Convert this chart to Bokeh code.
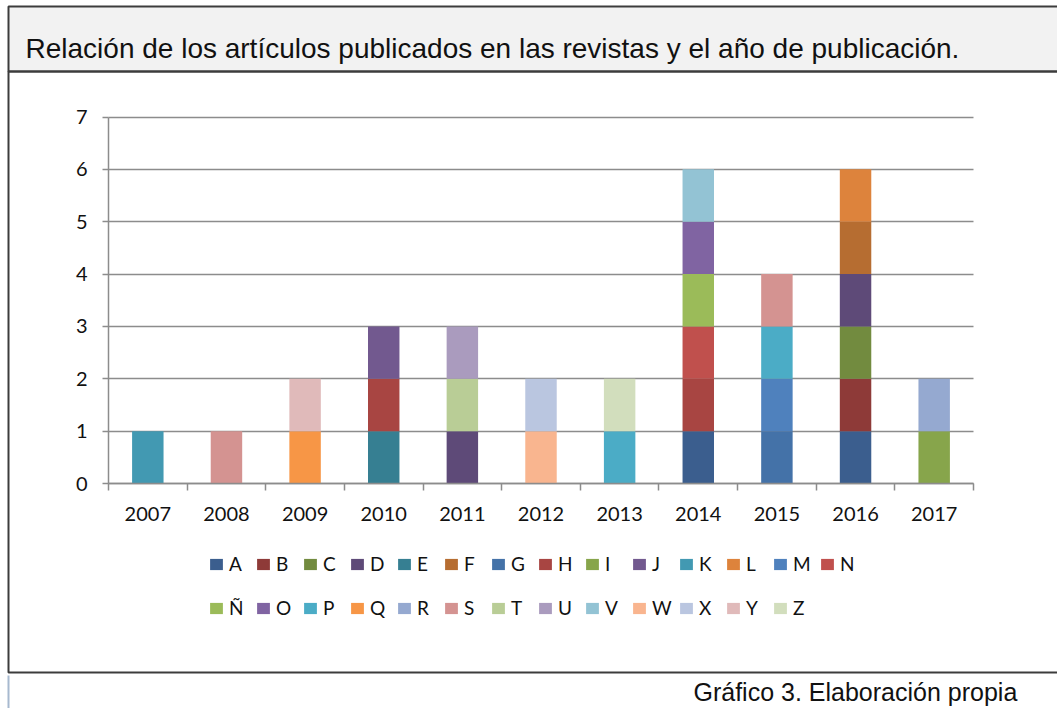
from bokeh.plotting import figure
from bokeh.models import (ColumnDataSource, Range1d, FixedTicker, Legend, LegendItem,
                          BoxAnnotation, Label, SingleIntervalTicker)
from bokeh.embed import file_html
from bokeh.resources import INLINE

years = ["2007", "2008", "2009", "2010", "2011", "2012", "2013", "2014", "2015", "2016", "2017"]
series = ["A", "B", "C", "D", "E", "F", "G", "H", "I", "J", "K", "L", "M", "N",
          "Ñ", "O", "P", "Q", "R", "S", "T", "U", "V", "W", "X", "Y", "Z"]

# articles per year (2007..2017) for each journal
A = [0, 0, 0, 0, 0, 0, 0, 1, 0, 1, 0]
B = [0, 0, 0, 0, 0, 0, 0, 0, 0, 1, 0]
C = [0, 0, 0, 0, 0, 0, 0, 0, 0, 1, 0]
D = [0, 0, 0, 0, 1, 0, 0, 0, 0, 1, 0]
E = [0, 0, 0, 1, 0, 0, 0, 0, 0, 0, 0]
F = [0, 0, 0, 0, 0, 0, 0, 0, 0, 1, 0]
G = [0, 0, 0, 0, 0, 0, 0, 0, 1, 0, 0]
H = [0, 0, 0, 1, 0, 0, 0, 1, 0, 0, 0]
I = [0, 0, 0, 0, 0, 0, 0, 0, 0, 0, 1]
J = [0, 0, 0, 1, 0, 0, 0, 0, 0, 0, 0]
K = [1, 0, 0, 0, 0, 0, 0, 0, 0, 0, 0]
L = [0, 0, 0, 0, 0, 0, 0, 0, 0, 1, 0]
M = [0, 0, 0, 0, 0, 0, 0, 0, 1, 0, 0]
N = [0, 0, 0, 0, 0, 0, 0, 1, 0, 0, 0]
N_TILDE = [0, 0, 0, 0, 0, 0, 0, 1, 0, 0, 0]
O = [0, 0, 0, 0, 0, 0, 0, 1, 0, 0, 0]
P = [0, 0, 0, 0, 0, 0, 1, 0, 1, 0, 0]
Q = [0, 0, 1, 0, 0, 0, 0, 0, 0, 0, 0]
R = [0, 0, 0, 0, 0, 0, 0, 0, 0, 0, 1]
S = [0, 1, 0, 0, 0, 0, 0, 0, 1, 0, 0]
T = [0, 0, 0, 0, 1, 0, 0, 0, 0, 0, 0]
U = [0, 0, 0, 0, 1, 0, 0, 0, 0, 0, 0]
V = [0, 0, 0, 0, 0, 0, 0, 1, 0, 0, 0]
W = [0, 0, 0, 0, 0, 1, 0, 0, 0, 0, 0]
X = [0, 0, 0, 0, 0, 1, 0, 0, 0, 0, 0]
Y = [0, 0, 1, 0, 0, 0, 0, 0, 0, 0, 0]
Z = [0, 0, 0, 0, 0, 0, 1, 0, 0, 0, 0]

values = [A, B, C, D, E, F, G, H, I, J, K, L, M, N, N_TILDE, O, P, Q, R, S, T, U, V, W, X, Y, Z]

colors = ["#3B5E8E", "#8E3A38", "#728B3F", "#5E4A78", "#367F92", "#B66D31", "#4472A8",
          "#A84542", "#87A54B", "#72598F", "#4299B2", "#DD833C", "#4F81BD", "#C0504D",
          "#9BBB59", "#8064A2", "#4BACC6", "#F79646", "#95A9D0", "#D49391", "#B9CD96",
          "#AA9BBE", "#93C3D4", "#F9B58F", "#BAC6E0", "#E0BABA", "#D2DEBD"]

y_max = 7
title_text = "Relación de los artículos publicados en las revistas y el año de publicación."
caption_text = "Gráfico 3. Elaboración  propia"

# ---- layout constants (pixels on the canvas) ----
W_PX, H_PX = 1057, 708
PLOT_LEFT, PLOT_RIGHT = 108.0, 973.0    # pixel of x=0 and x=n_years
PLOT_BOTTOM, PLOT_TOP = 483.0, 116.5    # pixel of y=0 and y=y_max

n = len(years)
ux = (PLOT_RIGHT - PLOT_LEFT) / n
uy = (PLOT_BOTTOM - PLOT_TOP) / y_max
x_range = Range1d(-PLOT_LEFT / ux, (W_PX - PLOT_LEFT) / ux)
y_range = Range1d(-(H_PX - PLOT_BOTTOM) / uy, PLOT_BOTTOM / uy)

centers = [i + 0.5 for i in range(n)]
bounds = [float(i) for i in range(n + 1)]

data = {"x": centers}
for name, vals in zip(series, values):
    data[name] = vals
source = ColumnDataSource(data)

p = figure(width=W_PX, height=H_PX, output_backend="svg", toolbar_location=None,
           x_range=x_range, y_range=y_range, title=None,
           min_border_left=0, min_border_right=0, min_border_top=0, min_border_bottom=0)
p.outline_line_color = None
p.background_fill_color = "white"
p.border_fill_color = "white"

renderers = p.vbar_stack(series, x="x", width=0.4, source=source,
                         fill_color=colors, line_color=None)

GRID = "#8C8C8C"
TICK_FONT = "Lato"
BORDER = "#3C3C3C"

# x axis (ticks between categories, labels at the centres)
xa = p.xaxis[0]
xa.fixed_location = 0
xa.bounds = (0, n)
xa.ticker = FixedTicker(ticks=centers, minor_ticks=bounds)
xa.major_label_overrides = {c: y for c, y in zip(centers, years)}
xa.major_tick_line_color = None
xa.major_tick_in = 0
xa.major_tick_out = 0
xa.minor_tick_in = 0
xa.minor_tick_out = 7
xa.minor_tick_line_color = GRID
xa.minor_tick_line_width = 1.5
xa.axis_line_color = GRID
xa.axis_line_width = 1.5
xa.major_label_text_font = TICK_FONT
xa.major_label_text_font_size = "20px"
xa.major_label_text_color = "#111111"
xa.major_label_standoff = 16

# y axis
ya = p.yaxis[0]
ya.fixed_location = 0
ya.bounds = (0, y_max)
ya.ticker = SingleIntervalTicker(interval=1, num_minor_ticks=0)
ya.major_tick_in = 0
ya.major_tick_out = 6
ya.major_tick_line_color = GRID
ya.major_tick_line_width = 1.5
ya.minor_tick_line_color = None
ya.axis_line_color = GRID
ya.axis_line_width = 1.5
ya.major_label_text_font = TICK_FONT
ya.major_label_text_font_size = "20px"
ya.major_label_text_color = "#111111"
ya.major_label_standoff = 15

p.xgrid.grid_line_color = None
p.ygrid.ticker = SingleIntervalTicker(interval=1, num_minor_ticks=0)
p.ygrid.bounds = (0, y_max)
p.ygrid.cross_bounds = (0, n)
p.ygrid.grid_line_color = GRID
p.ygrid.grid_line_width = 1.5

# frame decorations
title_box = BoxAnnotation(left=8, right=1100, top=6, bottom=71,
                          left_units="canvas", right_units="canvas",
                          top_units="canvas", bottom_units="canvas",
                          fill_color="#F2F2F2", fill_alpha=1,
                          line_color=BORDER, line_alpha=1, line_width=2, level="underlay")
chart_box = BoxAnnotation(left=8, right=1100, top=71, bottom=672,
                          left_units="canvas", right_units="canvas",
                          top_units="canvas", bottom_units="canvas",
                          fill_alpha=0, line_color=BORDER, line_alpha=1, line_width=2,
                          level="underlay")
dotted = BoxAnnotation(left=8, right=8, top=675, bottom=712,
                       left_units="canvas", right_units="canvas",
                       top_units="canvas", bottom_units="canvas",
                       fill_alpha=0, line_color="#A7B9CF", line_alpha=1, line_width=2,
                       line_dash="5 3")
p.add_layout(title_box)
p.add_layout(chart_box)
p.add_layout(dotted)


# legends (two rows)
def make_legend(names, rends, loc):
    items = [LegendItem(label=nm, renderers=[r]) for nm, r in zip(names, rends)]
    return Legend(items=items, location=loc, orientation="horizontal",
                  label_text_font=TICK_FONT, label_text_font_size="19px",
                  label_text_color="#111111",
                  glyph_width=16, glyph_height=14, label_standoff=5, label_width=21,
                  spacing=5, padding=0, margin=0, border_line_color=None,
                  background_fill_alpha=0)


p.add_layout(make_legend(series[:14], renderers[:14], (208, 133)))
p.add_layout(make_legend(series[14:], renderers[14:], (208, 89)))

p.add_layout(Label(x=25, y=48, x_units="canvas", y_units="canvas", text=title_text,
                   text_font="Liberation Sans", text_font_size="28px",
                   text_color="#111111", text_baseline="alphabetic"))
p.add_layout(Label(x=693, y=691, x_units="canvas", y_units="canvas", text=caption_text,
                   text_font="Liberation Sans", text_font_size="25px",
                   text_color="#111111", text_baseline="alphabetic"))

open("out.html", "w").write(file_html(p, INLINE))
